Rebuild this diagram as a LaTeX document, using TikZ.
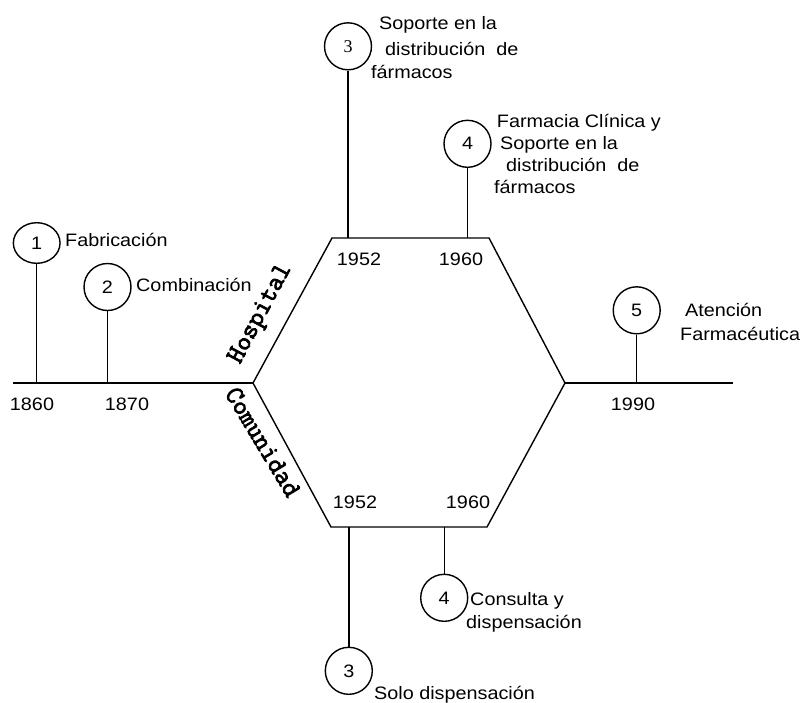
\documentclass[tikz,border=0pt]{standalone}
\usepackage{fontspec}
\usetikzlibrary{shapes.geometric}
\setmainfont{Liberation Sans}[FakeStretch=1.1]
\newfontfamily\serifnum{Liberation Serif}
\newfontfamily\monob{Latin Modern Mono}[FakeBold=3]
\newcommand\fs{\fontsize{18}{22}\selectfont}
\begin{document}
\begin{tikzpicture}[x=1pt,y=-1pt,
  ln/.style={line width=1.4pt},
  circ/.style={draw, line width=1.4pt, circle, minimum size=47pt, inner sep=0pt, font=\fs},
  lbl/.style={anchor=base west, inner sep=0pt, font=\fs},
  yr/.style={anchor=base, inner sep=0pt, font=\fs},
  side/.style={inner sep=0pt, font=\monob\fontsize{26.5}{28}\selectfont}]
\useasboundingbox (0,0) rectangle (810,702);
% main line and hexagon
\coordinate (L0) at (13,383);
\coordinate (Lv) at (253,383);
\coordinate (TL) at (332,238);
\coordinate (TR) at (489,238);
\coordinate (Rv) at (565,383);
\coordinate (BR) at (487,527);
\coordinate (BL) at (331,527);
\coordinate (R1) at (733,383);
\draw[ln] (L0) -- (Lv);
\draw[ln, line join=miter] (Lv) -- (TL) -- (TR) -- (Rv) -- (BR) -- (BL) -- cycle;
\draw[ln] (Rv) -- (R1);
% circles
\node[draw, line width=1.4pt, ellipse, minimum width=46.7pt, minimum height=40.6pt, inner sep=0pt, font=\fs] (c1) at (36.7,243) {1};
\node[circ] (c2) at (107.5,287) {2};
\node[circ] (c3t) at (348,46.3) {\serifnum 3};
\node[circ] (c4t) at (467.5,143.8) {4};
\node[circ] (c5) at (636.7,310.3) {5};
\node[circ] (c4b) at (444.2,597.8) {4};
\node[circ] (c3b) at (348.8,670.8) {3};
% connectors
\draw[ln] (c1.south) -- (c1.south |- L0);
\draw[ln] (c2.south) -- (c2.south |- L0);
\draw[ln] (c3t.south) -- (c3t.south |- TL);
\draw[ln] (c4t.south) -- (c4t.south |- TR);
\draw[ln] (c5.south) -- (c5.south |- R1);
\draw[ln] (c4b.north) -- (c4b.north |- BR);
\draw[ln] (c3b.north) -- (c3b.north |- BL);
% labels
\node[lbl] (t1) at (65,246) {Fabricación};
\node[lbl] (t2) at (136,291.7) {Combinación};
\node[lbl] (t3a) at (379,29.3) {Soporte en la};
\node[lbl] (t3b) at (385,55) {distribución~~de};
\node[lbl] (t3c) at (371,78.3) {fármacos};
\node[lbl] (t4a) at (496.7,127.3) {Farmacia Clínica y};
\node[lbl] (t4b) at (500,149.3) {Soporte en la};
\node[lbl] (t4c) at (506,171) {distribución~~de};
\node[lbl] (t4d) at (494,193.3) {fármacos};
\node[lbl] (t5a) at (685,316) {Atención};
\node[lbl] (t5b) at (680,340) {Farmacéutica};
\node[lbl] (t6a) at (470,605) {Consulta y};
\node[lbl] (t6b) at (466,628.3) {dispensación};
\node[lbl] (t7) at (374,699) {Solo dispensación};
% years
\node[yr] (y1860) at (32,410) {1860};
\node[yr] (y1870) at (127,410) {1870};
\node[yr] (y1990) at (633,410) {1990};
\node[yr] (y1952t) at (359,265) {1952};
\node[yr] (y1960t) at (461,265) {1960};
\node[yr] (y1952b) at (355,508) {1952};
\node[yr] (y1960b) at (468,508) {1960};
% side labels
\node[side, rotate=62] (hosp) at (261,314) {Hospital};
\node[side, rotate=-59] (com) at (263,442) {Comunidad};
\end{tikzpicture}
\end{document}
